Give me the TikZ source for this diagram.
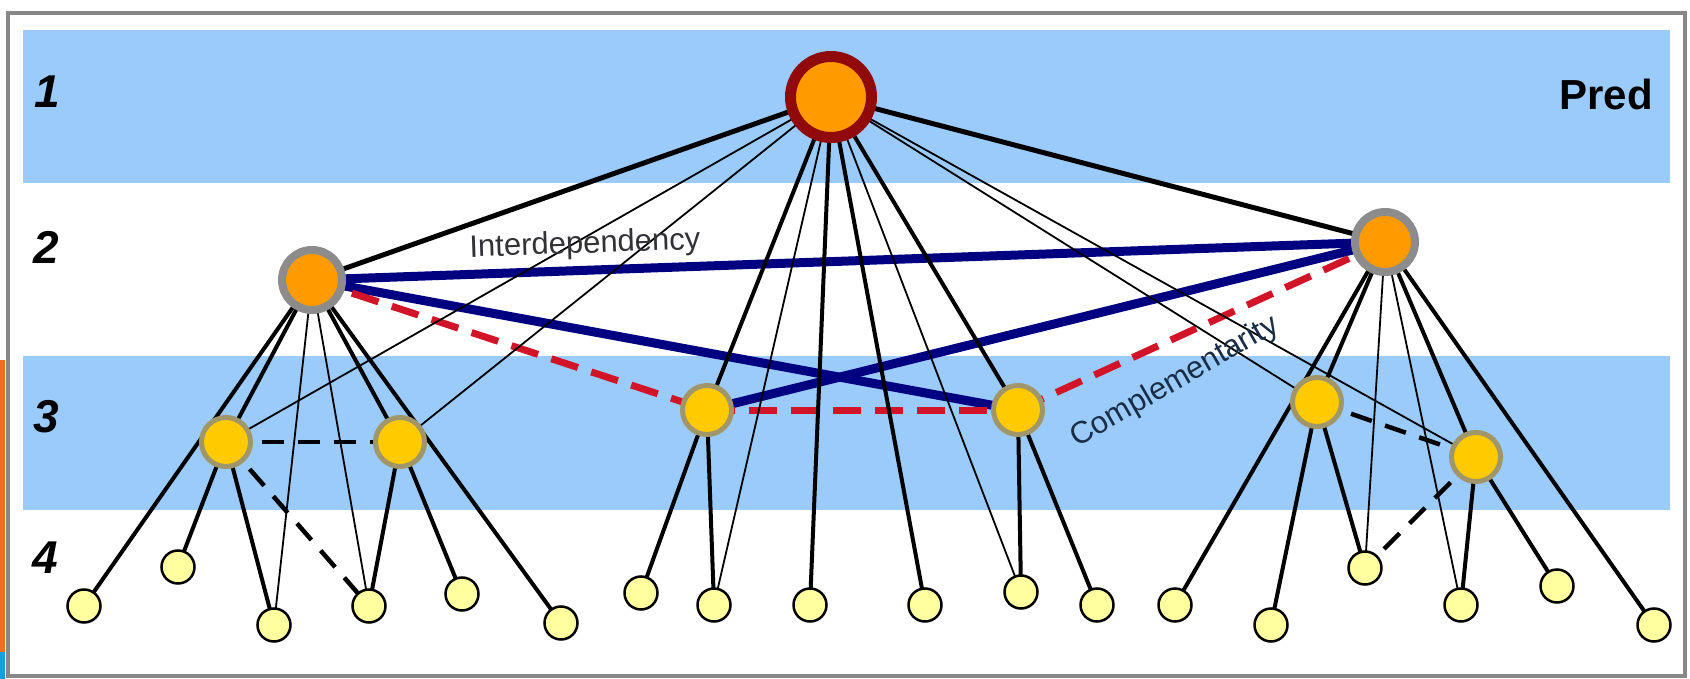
\documentclass[tikz,border=0pt]{standalone}
\usepackage{fontspec}
\setsansfont{Liberation Sans}
\usepackage{tikz}
\usetikzlibrary{positioning}

\definecolor{bandblue}{RGB}{155,203,250}
\definecolor{rootred}{RGB}{145,10,10}
\definecolor{hubfill}{RGB}{255,155,0}
\definecolor{hubgray}{RGB}{140,140,140}
\definecolor{midfill}{RGB}{255,202,0}
\definecolor{midrim}{RGB}{160,150,105}
\definecolor{leaffill}{RGB}{255,255,160}
\definecolor{linknavy}{RGB}{0,0,128}
\definecolor{linkred}{RGB}{210,20,40}
\definecolor{framegray}{RGB}{136,136,136}
\definecolor{textgray}{RGB}{50,50,55}
\definecolor{textslate}{RGB}{25,45,70}
\definecolor{tabsorange}{RGB}{240,110,30}
\definecolor{tabscyan}{RGB}{20,160,220}

\pgfdeclarelayer{bands}
\pgfdeclarelayer{links}
\pgfsetlayers{bands,links,main}

\begin{document}
\begin{tikzpicture}[
            x=1pt, y=-1pt,
            rootnode/.style = {circle, draw=rootred, line width=11pt, fill=hubfill, minimum size=81pt, inner sep=0pt},
            hubnode/.style  = {circle, draw=hubgray, line width=8pt, fill=hubfill, minimum size=60pt, inner sep=0pt},
            midnode/.style  = {circle, draw=midrim, line width=5pt, fill=midfill, minimum size=49pt, inner sep=0pt},
            leafnode/.style = {circle, draw=black, line width=2.5pt, fill=leaffill, minimum size=33pt, inner sep=0pt},
            heavy/.style    = {line width=5pt},
            thick4/.style   = {line width=4pt},
            thin2/.style    = {line width=1.8pt},
            bluelink/.style = {draw=linknavy, line width=9pt},
            redlink/.style  = {draw=linkred, line width=7pt, dash pattern=on 28pt off 14pt},
            blackdash/.style= {line width=4.5pt, dash pattern=on 22pt off 14pt},
            levellabel/.style = {font=\fontsize{46}{46}\selectfont\sffamily\bfseries\itshape, inner sep=0pt},
            linklabel/.style  = {font=\fontsize{31}{31}\selectfont\sffamily, inner sep=0pt}
        ]
        \useasboundingbox (0,0) rectangle (1690,679);

        \begin{pgfonlayer}{bands}
            \fill[white] (0,0) rectangle (1690,679);
            \fill[bandblue] (23,30) rectangle (1670,183);
            \fill[bandblue] (23,356) rectangle (1670,510);
            \draw[framegray, line width=4.5pt] (8,13) rectangle (1685,676);
            \fill[tabsorange] (0,360) rectangle (5,652);
            \fill[tabscyan] (0,652) rectangle (5,679);
        \end{pgfonlayer}

        \node (root) [rootnode] at (831,97) {};
        \node (l)    [hubnode]  at (312,280) {};
        \node (r)    [hubnode]  at (1385,242) {};
        \node (ll)   [midnode]  at (226,442) {};
        \node (lr)   [midnode]  at (400,442) {};
        \node (ml)   [midnode]  at (707,410) {};
        \node (mr)   [midnode]  at (1018,410) {};
        \node (rl)   [midnode]  at (1317,402) {};
        \node (rr)   [midnode]  at (1476,457) {};

        \node (leaf1)  [leafnode] at (84,606) {};
        \node (leaf2)  [leafnode] at (178,567) {};
        \node (leaf3)  [leafnode] at (274,625) {};
        \node (leaf4)  [leafnode] at (369,606) {};
        \node (leaf5)  [leafnode] at (462,594) {};
        \node (leaf6)  [leafnode] at (561,623) {};
        \node (leaf7)  [leafnode] at (641,593) {};
        \node (leaf8)  [leafnode] at (714,605) {};
        \node (leaf9)  [leafnode] at (810,605) {};
        \node (leaf10) [leafnode] at (925,605) {};
        \node (leaf11) [leafnode] at (1021,592) {};
        \node (leaf12) [leafnode] at (1097,605) {};
        \node (leaf13) [leafnode] at (1175,605) {};
        \node (leaf14) [leafnode] at (1271,625) {};
        \node (leaf15) [leafnode] at (1365,568) {};
        \node (leaf16) [leafnode] at (1461,605) {};
        \node (leaf17) [leafnode] at (1557,586) {};
        \node (leaf18) [leafnode] at (1654,625) {};

        \node (lv1)  [levellabel] at (47,92)  {1};
        \node (lv2)  [levellabel] at (46,247) {2};
        \node (lv3)  [levellabel] at (46,417) {3};
        \node (lv4)  [levellabel] at (45,558) {4};
        \node (pred) [font=\fontsize{42}{42}\selectfont\sffamily\bfseries, inner sep=0pt] at (1606,94) {Pred};

        \begin{pgfonlayer}{links}
            \draw[bluelink] (l.center)  -- (r.center);
            \draw[bluelink] (l.center)  -- (mr.center);
            \draw[bluelink] (ml.center) -- (r.center);
            \draw[redlink]  (l.center)  -- (ml.center);
            \draw[redlink]  (ml.center) -- (mr.center);
            \draw[redlink]  (mr.center) -- (r.center);

            \draw[heavy]  (root.center) -- (l.center);
            \draw[heavy]  (root.center) -- (r.center);
            \draw[thin2]  (root.center) -- (ll.center);
            \draw[thin2]  (root.center) -- (lr.center);
            \draw[thick4] (root.center) -- (ml.center);
            \draw[thin2]  (root.center) -- (leaf8.center);
            \draw[thick4] (root.center) -- (leaf9.center);
            \draw[thick4] (root.center) -- (leaf10.center);
            \draw[thin2]  (root.center) -- (leaf11.center);
            \draw[thick4] (root.center) -- (mr.center);
            \draw[thin2]  (root.center) -- (rl.center);
            \draw[thin2]  (root.center) -- (rr.center);

            \draw[thick4] (l.center)  -- (leaf1.center);
            \draw[thick4] (l.center)  -- (ll.center);
            \draw[thin2]  (l.center)  -- (leaf3.center);
            \draw[thin2]  (l.center)  -- (leaf4.center);
            \draw[thick4] (l.center)  -- (lr.center);
            \draw[thick4] (l.center)  -- (leaf6.center);
            \draw[blackdash] (ll.center) -- (lr.center);
            \draw[thick4] (ll.center) -- (leaf2.center);
            \draw[thick4] (ll.center) -- (leaf3.center);
            \draw[blackdash] (ll.center) -- (leaf4.center);
            \draw[thick4] (lr.center) -- (leaf4.center);
            \draw[thick4] (lr.center) -- (leaf5.center);

            \draw[thick4] (ml.center) -- (leaf7.center);
            \draw[thick4] (ml.center) -- (leaf8.center);
            \draw[thick4] (mr.center) -- (leaf11.center);
            \draw[thick4] (mr.center) -- (leaf12.center);

            \draw[thick4] (r.center)  -- (rl.center);
            \draw[thick4] (r.center)  -- (leaf13.center);
            \draw[thin2]  (r.center)  -- (leaf15.center);
            \draw[thin2]  (r.center)  -- (leaf16.center);
            \draw[thick4] (r.center)  -- (rr.center);
            \draw[thick4] (r.center)  -- (leaf18.center);
            \draw[blackdash] (rl.center) -- (rr.center);
            \draw[thick4] (rl.center) -- (leaf14.center);
            \draw[thick4] (rl.center) -- (leaf15.center);
            \draw[blackdash] (rr.center) -- (leaf15.center);
            \draw[thick4] (rr.center) -- (leaf16.center);
            \draw[thick4] (rr.center) -- (leaf17.center);
        \end{pgfonlayer}

        \node (inter) [linklabel, text=textgray, rotate=2]   at (585,245)  {Interdependency};
        \node (compl) [linklabel, text=textslate, rotate=30] at (1175,382) {Complementarity};
    \end{tikzpicture}
\end{document}
